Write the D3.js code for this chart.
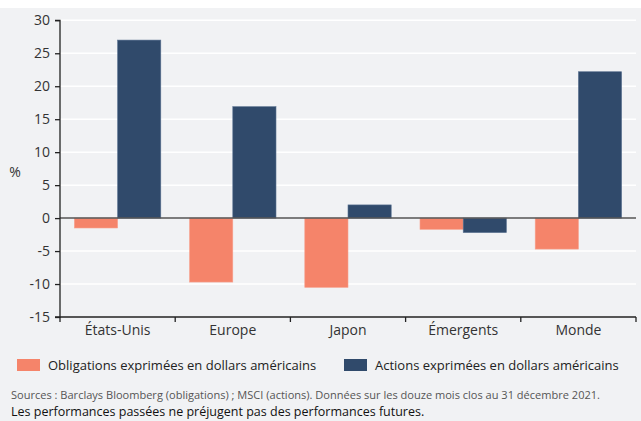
<!DOCTYPE html>
<html><head><meta charset="utf-8">
<script src="https://cdn.jsdelivr.net/npm/d3@7"></script>
<style>
html,body{margin:0;padding:0;background:#fff;}
svg{display:block;}
text{font-family:"Open Sans","Noto Sans",sans-serif;}
</style></head>
<body>
<svg id="chart" width="641" height="421"></svg>
<script>
const categories = ["États-Unis", "Europe", "Japon", "Émergents", "Monde"];
const seriesNames = ["Obligations exprimées en dollars américains", "Actions exprimées en dollars américains"];
const obligations = [-1.5, -9.7, -10.5, -1.7, -4.7];
const actions = [27.0, 16.9, 2.0, -2.2, 22.2];
const yTicks = [-15, -10, -5, 0, 5, 10, 15, 20, 25, 30];
const colors = ["#f5846a", "#304a6b"];
const yLabel = "%";
const sourceText = "Sources : Barclays Bloomberg (obligations) ; MSCI (actions). Données sur les douze mois clos au 31 décembre 2021.";
const noteText = "Les performances passées ne préjugent pas des performances futures.";

const svg = d3.select("#chart");
svg.append("rect").attr("x",0).attr("y",8).attr("width",641).attr("height",413).attr("fill","#f1f2f4");

const mLeft = 60, mRight = 636, mTop = 20.3, mBottom = 317;
const y = d3.scaleLinear().domain([-15, 30]).range([mBottom, mTop]);
const x0 = d3.scaleBand().domain(categories).range([mLeft, mRight]).paddingInner(0.25).paddingOuter(0.125);
const x1 = d3.scaleBand().domain([0,1]).range([0, x0.bandwidth()]);

// gridlines
svg.append("g").selectAll("line").data(yTicks.filter(d => d !== -15 && d !== 0)).join("line")
  .attr("x1", mLeft).attr("x2", mRight).attr("y1", d => y(d)).attr("y2", d => y(d))
  .attr("stroke", "#ffffff").attr("stroke-width", 1.5);

// bars
const data = categories.map((c,i) => ({c, vals:[obligations[i], actions[i]]}));
const g = svg.append("g");
data.forEach(d => {
  d.vals.forEach((v, j) => {
    g.append("rect")
      .attr("x", x0(d.c) + x1(j))
      .attr("width", x1.bandwidth())
      .attr("y", y(Math.max(0, v)))
      .attr("height", Math.abs(y(v) - y(0)))
      .attr("fill", colors[j])
      .attr("stroke", j === 0 ? "#f7a08c" : "#5b7291")
      .attr("stroke-width", 0.6);
  });
});

// zero line
svg.append("line").attr("x1", mLeft).attr("x2", mRight).attr("y1", y(0)).attr("y2", y(0))
  .attr("stroke", "#555").attr("stroke-width", 1.5);

// y axis
const yAxis = d3.axisLeft(y).tickValues(yTicks).tickFormat(d => String(d)).tickSize(5).tickPadding(5);
const ya = svg.append("g").attr("transform", `translate(${mLeft},0)`).call(yAxis);
ya.select(".domain").attr("stroke", "#222").attr("stroke-width", 1.3).attr("d", `M-5,${mTop}H0V${mBottom}H-5`);
ya.selectAll(".tick line").attr("stroke", "#222").attr("stroke-width", 1.3);
ya.selectAll(".tick text").attr("fill", "#333").style("font-size", "14px").style("font-family", '"Open Sans",sans-serif');

// x axis
const step = x0.step();
const boundaries = d3.range(categories.length + 1).map(i => mLeft + i * step);
svg.append("line").attr("x1", mLeft).attr("x2", mRight).attr("y1", mBottom).attr("y2", mBottom)
  .attr("stroke", "#222").attr("stroke-width", 1.3);
svg.append("g").selectAll("line").data(boundaries).join("line")
  .attr("x1", d => d).attr("x2", d => d).attr("y1", mBottom).attr("y2", mBottom + 5)
  .attr("stroke", "#222").attr("stroke-width", 1.3);
svg.append("g").selectAll("text").data(categories).join("text")
  .attr("x", d => x0(d) + x0.bandwidth()/2).attr("y", 335)
  .attr("text-anchor", "middle").attr("fill", "#333").style("font-size", "14px")
  .text(d => d);

// y label
svg.append("text").attr("x", 15).attr("y", 177).attr("text-anchor", "middle")
  .attr("fill", "#333").style("font-size", "14px").text(yLabel);

// legend
const legendX = [17, 344];
seriesNames.forEach((s, i) => {
  svg.append("rect").attr("x", legendX[i]).attr("y", 359).attr("width", 23).attr("height", 12).attr("fill", colors[i]);
  svg.append("text").attr("x", legendX[i] + 31).attr("y", 370).attr("fill", "#222")
    .style("font-size", "13px").text(s);
});

// footer
svg.append("text").attr("x", 11).attr("y", 398.5).attr("fill", "#555").style("font-size", "10.5px")
  .attr("textLength", 589).attr("lengthAdjust", "spacingAndGlyphs").text(sourceText);
svg.append("text").attr("x", 11).attr("y", 415.5).attr("fill", "#111").style("font-size", "12.5px")
  .text(noteText);
</script>
</body></html>
